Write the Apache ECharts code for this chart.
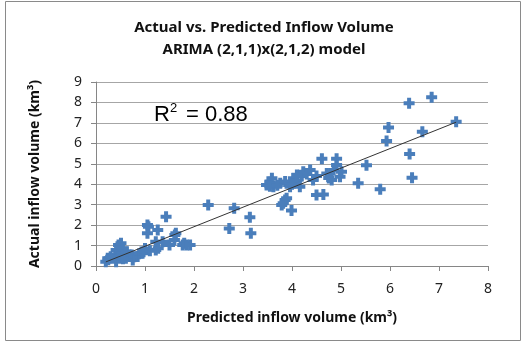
<!DOCTYPE html>
<html>
<head>
<meta charset="utf-8">
<script src="https://cdn.jsdelivr.net/npm/echarts@6/dist/echarts.min.js"></script>
<style>
html, body { margin: 0; padding: 0; background: #fff; }
#main { width: 528px; height: 344px; }
</style>
</head>
<body>
<div id="main"></div>
<script>
// predicted (x) and actual (y) inflow volumes, km3
var predicted = [
    0.20, 0.24, 0.25, 0.39, 0.41, 0.41, 0.46, 0.49, 0.51, 0.51, 0.55, 0.61, 0.63, 0.68, 0.73, 0.75,
    0.78, 0.85, 0.88, 0.95, 0.97, 0.45, 0.30, 0.55, 1.00, 1.10,
    1.05, 1.05, 1.07, 1.22, 1.22, 1.26, 1.27, 1.36, 1.43, 1.50, 1.60, 1.63, 1.61, 1.77, 1.80, 1.85, 1.92,
    2.29, 2.82, 2.72, 3.14, 3.16,
    3.48, 3.55, 3.59, 3.62, 3.55, 3.76, 3.79, 3.82, 3.86, 3.86, 3.89, 3.96, 3.99, 4.03, 4.10, 4.16,
    4.20, 4.23, 4.30, 4.37, 4.43, 4.50, 4.50, 4.61, 4.64, 4.71, 4.75, 4.81, 4.91, 4.91, 4.98, 5.01,
    4.00, 3.70, 4.10, 4.85,
    5.35, 5.52, 5.80, 5.93, 5.97, 6.39, 6.40, 6.45, 6.66, 6.85, 7.35
];
var actual = [
    0.21, 0.38, 0.30, 0.54, 0.21, 0.78, 1.03, 0.70, 1.11, 0.62, 0.85, 0.38, 0.70, 0.54, 0.54, 0.29,
    0.45, 0.46, 0.60, 0.62, 0.70, 0.45, 0.45, 0.35, 0.85, 0.75,
    2.00, 1.60, 1.92, 0.78, 1.19, 1.76, 0.87, 1.19, 2.41, 1.03, 1.27, 1.60, 1.52, 1.03, 1.11, 1.03, 1.03,
    2.98, 2.82, 1.84, 2.38, 1.60,
    3.96, 4.10, 4.29, 3.88, 3.90, 4.05, 2.98, 3.07, 4.13, 3.23, 3.31, 3.88, 2.71, 4.29, 4.20, 3.88,
    4.40, 4.61, 4.50, 4.70, 4.21, 3.47, 4.40, 5.24, 3.50, 4.53, 4.30, 4.21, 5.24, 4.94, 4.37, 4.61,
    4.00, 3.95, 4.45, 4.70,
    4.05, 4.93, 3.75, 6.12, 6.78, 7.96, 5.48, 4.32, 6.57, 8.25, 7.06
];
var xTicks = [0, 8, 1];
var yTicks = [0, 9, 1];
var r2Label = '0.88';

var points = predicted.map(function (x, i) { return [x, actual[i]]; });

// least-squares trendline over the data range, like Excel's linear trendline
var n = points.length, sx = 0, sy = 0, sxx = 0, sxy = 0;
points.forEach(function (p) { sx += p[0]; sy += p[1]; sxx += p[0] * p[0]; sxy += p[0] * p[1]; });
var slope = (n * sxy - sx * sy) / (n * sxx - sx * sx);
var intercept = (sy - slope * sx) / n;
var xMin = Math.min.apply(null, predicted), xMax = Math.max.apply(null, predicted);
var trend = [[xMin, intercept + slope * xMin], [xMax, intercept + slope * xMax]];

var font = '"Noto Sans", sans-serif';
var chart = echarts.init(document.getElementById('main'));
var option = {
    backgroundColor: '#fff',
    animation: false,
    title: {
        text: 'Actual vs. Predicted Inflow Volume\nARIMA (2,1,1)x(2,1,2) model',
        left: 'center',
        top: 12,
        textStyle: { fontFamily: font, fontSize: 15, fontWeight: 'bold', color: '#111', lineHeight: 22 }
    },
    graphic: [
        { type: 'rect', shape: { x: 5.5, y: 1.5, width: 515, height: 339 },
          style: { fill: 'none', stroke: '#8a8a8a', lineWidth: 1 }, silent: true },
        { type: 'text', left: 154, top: 104,
          style: { text: 'R', font: '22px "Liberation Sans", Arial, sans-serif', fill: '#000' } },
        { type: 'text', left: 170, top: 102,
          style: { text: '2', font: '13px "Liberation Sans", Arial, sans-serif', fill: '#000' } },
        { type: 'text', left: 186, top: 104,
          style: { text: '= ' + r2Label, font: '22px "Liberation Sans", Arial, sans-serif', fill: '#000' } }
    ],
    grid: { left: 96, right: 40, top: 82, bottom: 78 },
    xAxis: {
        type: 'value',
        min: xTicks[0], max: xTicks[1], interval: xTicks[2],
        name: 'Predicted inflow volume (km³)',
        nameLocation: 'middle',
        nameGap: 45,
        nameTextStyle: { fontFamily: font, fontSize: 14, fontWeight: 'bold', color: '#111' },
        axisLine: { lineStyle: { color: '#868686' } },
        axisTick: { show: true, length: 5, lineStyle: { color: '#868686' } },
        axisLabel: { fontFamily: font, fontSize: 14, color: '#222', margin: 16 },
        splitLine: { show: false }
    },
    yAxis: {
        type: 'value',
        min: yTicks[0], max: yTicks[1], interval: yTicks[2],
        name: 'Actual inflow volume (km³)',
        nameLocation: 'middle',
        nameGap: 54,
        nameTextStyle: { fontFamily: font, fontSize: 14, fontWeight: 'bold', color: '#111' },
        axisLine: { show: true, lineStyle: { color: '#868686' } },
        axisTick: { show: true, length: 5, lineStyle: { color: '#868686' } },
        axisLabel: { fontFamily: font, fontSize: 14, color: '#222', margin: 14 },
        splitLine: { lineStyle: { color: '#a6a6a6' } }
    },
    series: [
        {
            type: 'scatter',
            symbol: 'path://M3.5,0H7.5V3.5H11V7.5H7.5V11H3.5V7.5H0V3.5H3.5Z',
            symbolSize: 11,
            itemStyle: { color: '#4a7ebb', opacity: 1 },
            data: points
        },
        {
            type: 'line',
            data: trend,
            symbol: 'none',
            lineStyle: { color: '#333', width: 1 },
            z: 3
        }
    ]
};
chart.setOption(option);
</script>
</body>
</html>
